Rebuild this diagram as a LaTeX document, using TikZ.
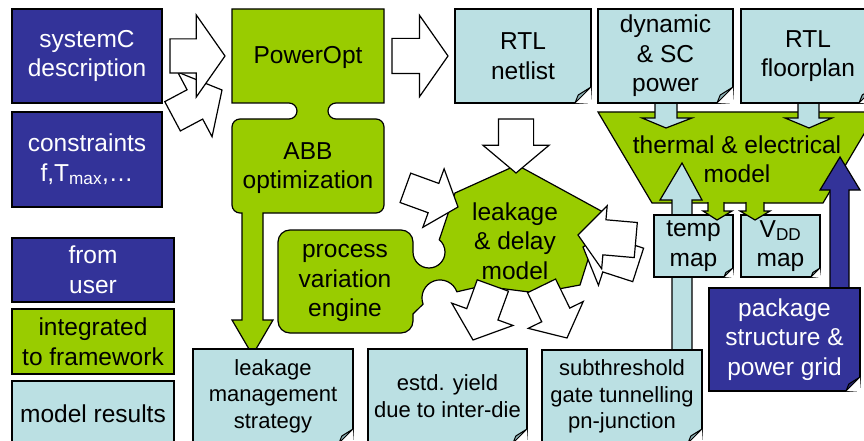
\documentclass[tikz,border=0pt]{standalone}
\usepackage{fontspec}
\setmainfont{Liberation Sans}
\usetikzlibrary{shapes.arrows,positioning}

\definecolor{userblue}{RGB}{51,51,153}
\definecolor{intgreen}{RGB}{153,204,0}
\definecolor{resblue}{RGB}{187,224,227}
\definecolor{resfold}{RGB}{140,176,180}
\definecolor{userfold}{RGB}{36,36,110}

\newcommand{\bigtxt}{\fontsize{24.5}{29.5}\selectfont}
\newcommand{\smalltxt}{\fontsize{22}{26.5}\selectfont}
% folded corner at the bottom right of a note
\newcommand{\dogear}[3]{%
  \fill[white] ([xshift=-#2]#1.south east) -- ([xshift=1pt,yshift=-1pt]#1.south east)
    -- ([yshift=#2]#1.south east) -- cycle;
  \draw[fill=#3,line width=1pt,line join=round] ([xshift=-#2]#1.south east)
    -- ([xshift=-0.8*#2,yshift=0.5*#2]#1.south east) -- ([yshift=#2]#1.south east) -- cycle;}

\begin{document}
\begin{tikzpicture}[x=1pt,y=-1pt,line width=1.2pt,
  box/.style={rectangle,draw,inner sep=0pt,outer sep=0pt,align=center,font=\bigtxt},
  user node/.style={box,fill=userblue,text=white},
  int node/.style={box,fill=intgreen},
  res node/.style={box,fill=resblue},
  small node/.style={res node,font=\smalltxt},
  text node/.style={inner sep=0pt,align=center,font=\bigtxt},
  blk arrow/.style={single arrow,draw,fill=white,inner xsep=0pt,outer sep=0pt,
    single arrow tip angle=100,anchor=tip}]
  \useasboundingbox (0,0) rectangle (864,441);
  \fill[white] (0,0) rectangle (864,441);
  \clip (0,0) rectangle (864,441);

  % user inputs
  \node[user node,minimum width=150pt,minimum height=94pt] (sysc) at (87,56) {systemC\\description};
  \node[user node,minimum width=150pt,minimum height=95pt,below=9pt of sysc] (constr)
    {constraints\\f,T\textsubscript{max},\ldots};

  % legend
  \node[user node,minimum width=162pt,minimum height=64pt] (from) at (93,270) {from\\user};
  \node[int node,minimum width=162pt,minimum height=65pt,below=7pt of from] (integ) {integrated\\to framework};
  \node[res node,minimum width=162pt,minimum height=65pt,below=7pt of integ] (modres) {model results};

  \node[blk arrow,minimum height=56pt,inner ysep=16pt,single arrow head extend=20pt,rotate=28] (a2) at (222,90) {};
  \node[blk arrow,minimum height=55pt,inner ysep=16.5pt,single arrow head extend=24pt,single arrow tip angle=110] (a1) at (225,56) {};

  % PowerOpt / ABB optimization
  \draw[fill=intgreen] (232,9) -- (384,9) -- (384,103) -- (336,103) arc[start angle=270,end angle=90,radius=8]
    -- (376,119) arc[start angle=270,end angle=360,radius=8]
    -- (384,205) arc[start angle=0,end angle=90,radius=8]
    -- (263,213) -- (263,320) -- (273,320) -- (252.5,355) -- (232,320) -- (242,320) -- (242,213)
    -- (240,213) arc[start angle=90,end angle=180,radius=8]
    -- (232,127) arc[start angle=180,end angle=270,radius=8]
    -- (289,119) arc[start angle=90,end angle=-90,radius=8] -- (232,103) -- cycle;
  \node[text node] (popt) at (308,57) {PowerOpt};
  \node[text node] (abb) at (308,168) {ABB\\optimization};

  \node[blk arrow,minimum height=56pt,inner ysep=17pt,single arrow head extend=23pt,single arrow tip angle=110] (a3) at (448,56) {};

  % thermal & electrical model
  \draw[fill=intgreen] (598,112) -- (877,112) -- (823,203) -- (652,203) -- cycle;
  \filldraw[fill=resblue] (655,102) -- (655,118) -- (642,118) -- (666,128) -- (692,118) -- (677,118) -- (677,102);
  \filldraw[fill=resblue] (798,102) -- (798,118) -- (785,118) -- (809,128) -- (832,118) -- (819,118) -- (819,102);
  \node[text node] (thermal) at (737,159) {thermal \& electrical\\model};

  \node[res node,minimum width=136pt,minimum height=94pt] (netlist) at (523,56) {RTL\\netlist};
  \node[res node,minimum width=135pt,minimum height=94pt] (dynpow) at (665.5,56) {dynamic\\\& SC\\power};
  \node[res node,minimum width=134pt,minimum height=94pt] (floor) at (808,56) {RTL\\floorplan};

  % process variation engine + leakage & delay model
  \draw[fill=intgreen] (278,242) arc[start angle=180,end angle=270,radius=12]
    -- (401,230) arc[start angle=270,end angle=360,radius=12]
    -- (413,252) arc[start angle=180,end angle=-50,radius=16]
    -- (455,193) -- (517,165) -- (603,212) -- (580,285) -- (537,293) -- (482,286)
    -- (456.9,291.8) arc[start angle=340,end angle=160,radius=18]
    -- (413,314) -- (413,321) arc[start angle=0,end angle=90,radius=12]
    -- (290,333) arc[start angle=90,end angle=180,radius=12] -- cycle;
  \node[text node] (procvar) at (345,283) {process\\variation\\engine};
  \node[text node] (leak) at (515,241) {leakage\\\& delay\\model};

  \node[blk arrow,minimum height=54pt,inner ysep=17pt,single arrow head extend=15.5pt,rotate=-90] (a4) at (516,173) {};
  \node[blk arrow,minimum height=56pt,inner ysep=15pt,single arrow head extend=15.5pt,rotate=-20] (a5) at (458,207) {};
  \node[blk arrow,minimum height=58pt,inner ysep=17pt,single arrow head extend=14pt,rotate=162] (a7) at (583,247) {};
  \node[blk arrow,minimum height=58pt,inner ysep=17pt,single arrow head extend=14pt,rotate=175] (a6) at (578,235) {};
  \node[blk arrow,minimum height=58pt,inner ysep=16pt,single arrow head extend=16pt,rotate=-110] (a8) at (473,340) {};
  \node[blk arrow,minimum height=58pt,inner ysep=15pt,single arrow head extend=15pt,rotate=-64] (a9) at (567,338) {};

  % maps and package
  \filldraw[fill=resblue] (672,351) -- (672,200) -- (660,200) -- (682,163) -- (702,200) -- (692,200) -- (692,351);
  \filldraw[fill=userblue] (830,289) -- (830,190) -- (820,190) -- (840,157) -- (860,190) -- (849,190) -- (849,289);
  \node[res node,minimum width=79pt,minimum height=62pt] (temp) at (693.5,246) {temp\\map};
  \node[res node,minimum width=79pt,minimum height=62pt] (vdd) at (780.5,246) {V\textsubscript{DD}\\map};
  \filldraw[fill=intgreen] (708,202) -- (708,211) -- (703,211) -- (717,220) -- (732,211) -- (724,211) -- (724,202);
  \filldraw[fill=intgreen] (746,202) -- (746,211) -- (740,211) -- (755,220) -- (770,211) -- (764,211) -- (764,202);
  \node[user node,minimum width=151pt,minimum height=103pt] (pkg) at (784.5,339.5) {package\\structure \&\\power grid};

  % results
  \node[small node,minimum width=160pt,minimum height=94pt] (leakmg) at (273,396) {leakage\\management\\strategy};
  \node[small node,minimum width=159pt,minimum height=94pt] (yield) at (447.5,396) {estd. yield\\due to inter-die};
  \node[small node,minimum width=160pt,minimum height=93pt] (subthr) at (622,396.5) {subthreshold\\gate tunnelling\\pn-junction};

  \dogear{netlist}{16pt}{resfold}
  \dogear{dynpow}{16pt}{resfold}
  \dogear{floor}{16pt}{resfold}
  \dogear{temp}{9pt}{resfold}
  \dogear{vdd}{9pt}{resfold}
  \dogear{pkg}{14pt}{userfold}
  \dogear{leakmg}{14pt}{resfold}
  \dogear{yield}{14pt}{resfold}
  \dogear{subthr}{14pt}{resfold}
\end{tikzpicture}
\end{document}
